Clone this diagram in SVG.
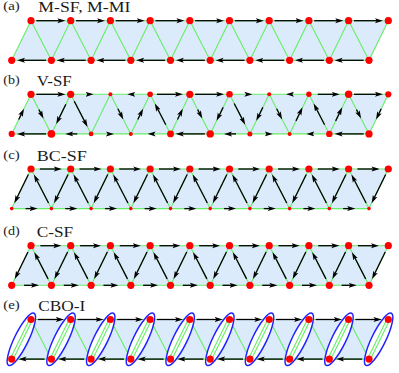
<svg xmlns="http://www.w3.org/2000/svg" xmlns:xlink="http://www.w3.org/1999/xlink" width="399" height="373" viewBox="0 0 399 373">
<style>
.bg{fill:#dcebfb}
.bond{stroke:#6e6;stroke-width:1.1;fill:none}
.ar{stroke:#000;stroke-width:1.3;fill:none;marker-end:url(#ah)}
.n{fill:#f00}
.lab{font-family:"Liberation Serif","DejaVu Serif",serif;fill:#1a1a1a}
.num{font-size:11.5px}
.ttl{font-size:15px}
.dim{fill:#fff;stroke:#2222ff;stroke-width:1.5}
</style>
<defs>
<marker id="ah" markerUnits="userSpaceOnUse" markerWidth="8" markerHeight="6" viewBox="0 0 8 6" refX="4.5" refY="3" orient="auto"><path d="M0,0.5L8,3L0,5.5L1.8,3z" fill="#000"/></marker>
<path id="a6" class="ar" d="M-3 0H-0.5"/>
<path id="a10" class="ar" d="M-5 0H1.5"/>
<path id="a12" class="ar" d="M-6 0H2.5"/>
<path id="a15" class="ar" d="M-7.5 0H4"/>
<path id="a21" class="ar" d="M-10.5 0H7"/>
<path id="a22" class="ar" d="M-11 0H7.5"/>
<path id="a24" class="ar" d="M-12 0H8.5"/>
<path id="a26" class="ar" d="M-13 0H9.5"/>
<path id="a29" class="ar" d="M-14.5 0H11"/>
<path id="a30" class="ar" d="M-15 0H11.5"/>
<path id="a32" class="ar" d="M-16 0H12.5"/>
<polygon id="bgp" class="bg" points="11.7,39.6 31,0 388.3,0 369,39.6"/>
<path id="bonds" class="bond" d="M31 0H388.3M11.7 39.6H369M11.7 39.6L31 0L51.4 39.6L70.7 0L91.1 39.6L110.4 0L130.8 39.6L150.1 0L170.5 39.6L189.8 0L210.2 39.6L229.5 0L249.9 39.6L269.2 0L289.6 39.6L308.9 0L329.3 39.6L348.6 0L369 39.6L388.3 0"/>
<g id="topL" class="n"><circle cx="31" cy="0" r="3.6"/><circle cx="70.7" cy="0" r="3.6"/><circle cx="110.4" cy="0" r="3.6"/><circle cx="150.1" cy="0" r="3.6"/><circle cx="189.8" cy="0" r="3.6"/><circle cx="229.5" cy="0" r="3.6"/><circle cx="269.2" cy="0" r="3.6"/><circle cx="308.9" cy="0" r="3.6"/><circle cx="348.6" cy="0" r="3.6"/><circle cx="388.3" cy="0" r="3.6"/></g>
<g id="botL" class="n"><circle cx="11.7" cy="39.6" r="3.6"/><circle cx="51.4" cy="39.6" r="3.6"/><circle cx="91.1" cy="39.6" r="3.6"/><circle cx="130.8" cy="39.6" r="3.6"/><circle cx="170.5" cy="39.6" r="3.6"/><circle cx="210.2" cy="39.6" r="3.6"/><circle cx="249.9" cy="39.6" r="3.6"/><circle cx="289.6" cy="39.6" r="3.6"/><circle cx="329.3" cy="39.6" r="3.6"/><circle cx="369" cy="39.6" r="3.6"/></g>
<g id="botS" class="n"><circle cx="11.7" cy="39.6" r="1.8"/><circle cx="51.4" cy="39.6" r="1.8"/><circle cx="91.1" cy="39.6" r="1.8"/><circle cx="130.8" cy="39.6" r="1.8"/><circle cx="170.5" cy="39.6" r="1.8"/><circle cx="210.2" cy="39.6" r="1.8"/><circle cx="249.9" cy="39.6" r="1.8"/><circle cx="289.6" cy="39.6" r="1.8"/><circle cx="329.3" cy="39.6" r="1.8"/><circle cx="369" cy="39.6" r="1.8"/></g>
<g id="dimer"><ellipse class="dim" cx="0" cy="0" rx="29" ry="7"/><path class="bond" d="M-22 -1.4H22M-22 1.4H22"/></g>
</defs>

<!-- (a) -->
<g id="panel-a" transform="translate(0 20.7)">
<use href="#bgp"/><use href="#bonds"/>
<g id="arrows-a">
<use href="#a29" x="50.85"/><use href="#a29" x="90.55"/><use href="#a29" x="130.25"/><use href="#a29" x="169.95"/><use href="#a29" x="209.65"/><use href="#a29" x="249.35"/><use href="#a29" x="289.05"/><use href="#a29" x="328.75"/><use href="#a29" x="368.45"/>
<use href="#a29" transform="translate(31.55 39.6) rotate(180)"/><use href="#a29" transform="translate(71.25 39.6) rotate(180)"/><use href="#a29" transform="translate(110.95 39.6) rotate(180)"/><use href="#a29" transform="translate(150.65 39.6) rotate(180)"/><use href="#a29" transform="translate(190.35 39.6) rotate(180)"/><use href="#a29" transform="translate(230.05 39.6) rotate(180)"/><use href="#a29" transform="translate(269.75 39.6) rotate(180)"/><use href="#a29" transform="translate(309.45 39.6) rotate(180)"/><use href="#a29" transform="translate(349.15 39.6) rotate(180)"/>
</g>
<g id="sites-a"><use href="#topL"/><use href="#botL"/></g>
</g>
<text class="lab num" x="3.3" y="10.2" textLength="16.5" lengthAdjust="spacingAndGlyphs">(a)</text>
<text class="lab ttl" x="38.3" y="11.7" textLength="92" lengthAdjust="spacingAndGlyphs">M-SF, M-MI</text>

<!-- (b) -->
<g id="panel-b" transform="translate(0 94.3)">
<use href="#bgp"/><use href="#bonds"/>
<g id="arrows-b">
<use href="#a29" x="50.85"/>
<use href="#a6" x="90.55"/>
<use href="#a6" transform="translate(130.25 0) rotate(180)"/>
<use href="#a26" x="169.95"/>
<use href="#a29" x="209.65"/>
<use href="#a6" x="249.35"/>
<use href="#a6" transform="translate(289.05 0) rotate(180)"/>
<use href="#a22" x="328.75"/>
<use href="#a29" x="368.45"/>
<use href="#a29" transform="translate(31.55 39.6) rotate(180)"/>
<use href="#a12" transform="translate(71.25 39.6) rotate(180)"/>
<use href="#a6" x="110.95" y="39.6"/>
<use href="#a6" transform="translate(150.65 39.6) rotate(180)"/>
<use href="#a29" transform="translate(190.35 39.6) rotate(180)"/>
<use href="#a12" transform="translate(230.05 39.6) rotate(180)"/>
<use href="#a6" x="269.75" y="39.6"/>
<use href="#a6" transform="translate(309.45 39.6) rotate(180)"/>
<use href="#a29" transform="translate(349.15 39.6) rotate(180)"/>
<use href="#a12" transform="translate(21.35 19.8) rotate(-64)"/>
<use href="#a22" transform="translate(61.05 19.8) rotate(116)"/>
<use href="#a12" transform="translate(140.45 19.8) rotate(-64)"/>
<use href="#a12" transform="translate(180.15 19.8) rotate(-64)"/>
<use href="#a15" transform="translate(219.85 19.8) rotate(116)"/>
<use href="#a15" transform="translate(259.55 19.8) rotate(116)"/>
<use href="#a15" transform="translate(299.25 19.8) rotate(-64)"/>
<use href="#a15" transform="translate(338.95 19.8) rotate(-64)"/>
<use href="#a12" transform="translate(378.65 19.8) rotate(116)"/>
<use href="#a10" transform="translate(41.2 19.8) rotate(62.75)"/>
<use href="#a29" transform="translate(80.9 19.8) rotate(62.75)"/>
<use href="#a12" transform="translate(120.6 19.8) rotate(62.75)"/>
<use href="#a24" transform="translate(160.3 19.8) rotate(-117.25)"/>
<use href="#a10" transform="translate(200 19.8) rotate(62.75)"/>
<use href="#a24" transform="translate(239.7 19.8) rotate(62.75)"/>
<use href="#a12" transform="translate(279.4 19.8) rotate(62.75)"/>
<use href="#a24" transform="translate(319.1 19.8) rotate(-117.25)"/>
<use href="#a10" transform="translate(358.8 19.8) rotate(62.75)"/>
</g>
<g id="sites-b" class="n">
<circle cx="31" cy="0" r="3.6"/><circle cx="70.7" cy="0" r="3.6"/><circle cx="110.4" cy="0" r="2"/><circle cx="150.1" cy="0" r="2.8"/><circle cx="189.8" cy="0" r="3.6"/><circle cx="229.5" cy="0" r="3.3"/><circle cx="269.2" cy="0" r="2"/><circle cx="308.9" cy="0" r="2.7"/><circle cx="348.6" cy="0" r="3.7"/><circle cx="388.3" cy="0" r="3.1"/>
<circle cx="11.7" cy="39.6" r="3.1"/><circle cx="51.4" cy="39.6" r="3.8"/><circle cx="91.1" cy="39.6" r="2.4"/><circle cx="130.8" cy="39.6" r="2"/><circle cx="170.5" cy="39.6" r="3.4"/><circle cx="210.2" cy="39.6" r="3.7"/><circle cx="249.9" cy="39.6" r="2.5"/><circle cx="289.6" cy="39.6" r="2"/><circle cx="329.3" cy="39.6" r="3.2"/><circle cx="369" cy="39.6" r="3.6"/>
</g>
</g>
<text class="lab num" x="3.3" y="83.8" textLength="16.5" lengthAdjust="spacingAndGlyphs">(b)</text>
<text class="lab ttl" x="36.7" y="86" textLength="35" lengthAdjust="spacingAndGlyphs">V-SF</text>

<!-- (c) -->
<g id="panel-c" transform="translate(0 169)">
<use href="#bgp"/><use href="#bonds"/>
<g id="arrows-c">
<use href="#a22" x="50.85"/><use href="#a22" x="90.55"/><use href="#a22" x="130.25"/><use href="#a22" x="169.95"/><use href="#a22" x="209.65"/><use href="#a22" x="249.35"/><use href="#a22" x="289.05"/><use href="#a22" x="328.75"/><use href="#a22" x="368.45"/>
<use href="#a12" x="31.55" y="39.6"/><use href="#a12" x="71.25" y="39.6"/><use href="#a12" x="110.95" y="39.6"/><use href="#a12" x="150.65" y="39.6"/><use href="#a12" x="190.35" y="39.6"/><use href="#a12" x="230.05" y="39.6"/><use href="#a12" x="269.75" y="39.6"/><use href="#a12" x="309.45" y="39.6"/><use href="#a12" x="349.15" y="39.6"/>
<use href="#a32" transform="translate(21.35 19.8) rotate(116)"/><use href="#a32" transform="translate(61.05 19.8) rotate(116)"/><use href="#a32" transform="translate(100.75 19.8) rotate(116)"/><use href="#a32" transform="translate(140.45 19.8) rotate(116)"/><use href="#a32" transform="translate(180.15 19.8) rotate(116)"/><use href="#a32" transform="translate(219.85 19.8) rotate(116)"/><use href="#a32" transform="translate(259.55 19.8) rotate(116)"/><use href="#a32" transform="translate(299.25 19.8) rotate(116)"/><use href="#a32" transform="translate(338.95 19.8) rotate(116)"/><use href="#a32" transform="translate(378.65 19.8) rotate(116)"/>
<use href="#a32" transform="translate(41.2 19.8) rotate(-117.25)"/><use href="#a32" transform="translate(80.9 19.8) rotate(-117.25)"/><use href="#a32" transform="translate(120.6 19.8) rotate(-117.25)"/><use href="#a32" transform="translate(160.3 19.8) rotate(-117.25)"/><use href="#a32" transform="translate(200 19.8) rotate(-117.25)"/><use href="#a32" transform="translate(239.7 19.8) rotate(-117.25)"/><use href="#a32" transform="translate(279.4 19.8) rotate(-117.25)"/><use href="#a32" transform="translate(319.1 19.8) rotate(-117.25)"/><use href="#a32" transform="translate(358.8 19.8) rotate(-117.25)"/>
</g>
<g id="sites-c"><use href="#topL"/><use href="#botS"/></g>
</g>
<text class="lab num" x="3.3" y="158.5" textLength="16.5" lengthAdjust="spacingAndGlyphs">(c)</text>
<text class="lab ttl" x="36.7" y="160.7" textLength="50" lengthAdjust="spacingAndGlyphs">BC-SF</text>

<!-- (d) -->
<g id="panel-d" transform="translate(0 245.7)">
<use href="#bgp"/><use href="#bonds"/>
<g id="arrows-d">
<use href="#a21" x="50.85"/><use href="#a21" x="90.55"/><use href="#a21" x="130.25"/><use href="#a21" x="169.95"/><use href="#a21" x="209.65"/><use href="#a21" x="249.35"/><use href="#a21" x="289.05"/><use href="#a21" x="328.75"/><use href="#a21" x="368.45"/>
<use href="#a15" x="31.55" y="39.6"/><use href="#a15" x="71.25" y="39.6"/><use href="#a15" x="110.95" y="39.6"/><use href="#a15" x="150.65" y="39.6"/><use href="#a15" x="190.35" y="39.6"/><use href="#a15" x="230.05" y="39.6"/><use href="#a15" x="269.75" y="39.6"/><use href="#a15" x="309.45" y="39.6"/><use href="#a15" x="349.15" y="39.6"/>
<use href="#a30" transform="translate(21.35 19.8) rotate(116)"/><use href="#a30" transform="translate(61.05 19.8) rotate(116)"/><use href="#a30" transform="translate(100.75 19.8) rotate(116)"/><use href="#a30" transform="translate(140.45 19.8) rotate(116)"/><use href="#a30" transform="translate(180.15 19.8) rotate(116)"/><use href="#a30" transform="translate(219.85 19.8) rotate(116)"/><use href="#a30" transform="translate(259.55 19.8) rotate(116)"/><use href="#a30" transform="translate(299.25 19.8) rotate(116)"/><use href="#a30" transform="translate(338.95 19.8) rotate(116)"/><use href="#a30" transform="translate(378.65 19.8) rotate(116)"/>
<use href="#a30" transform="translate(41.2 19.8) rotate(-117.25)"/><use href="#a30" transform="translate(80.9 19.8) rotate(-117.25)"/><use href="#a30" transform="translate(120.6 19.8) rotate(-117.25)"/><use href="#a30" transform="translate(160.3 19.8) rotate(-117.25)"/><use href="#a30" transform="translate(200 19.8) rotate(-117.25)"/><use href="#a30" transform="translate(239.7 19.8) rotate(-117.25)"/><use href="#a30" transform="translate(279.4 19.8) rotate(-117.25)"/><use href="#a30" transform="translate(319.1 19.8) rotate(-117.25)"/><use href="#a30" transform="translate(358.8 19.8) rotate(-117.25)"/>
</g>
<g id="sites-d"><use href="#topL"/><use href="#botL"/></g>
</g>
<text class="lab num" x="3.3" y="235.2" textLength="16.5" lengthAdjust="spacingAndGlyphs">(d)</text>
<text class="lab ttl" x="36.7" y="237.4" textLength="36.5" lengthAdjust="spacingAndGlyphs">C-SF</text>

<!-- (e) -->
<g id="panel-e" transform="translate(0 319.5)">
<use href="#bgp"/>
<path class="bond" d="M31 0H388.3M11.7 39.6H369M31 0L51.4 39.6M70.7 0L91.1 39.6M110.4 0L130.8 39.6M150.1 0L170.5 39.6M189.8 0L210.2 39.6M229.5 0L249.9 39.6M269.2 0L289.6 39.6M308.9 0L329.3 39.6M348.6 0L369 39.6"/>
<g id="dimers-e">
<use href="#dimer" transform="translate(21.35 19.8) rotate(-64)"/><use href="#dimer" transform="translate(61.05 19.8) rotate(-64)"/><use href="#dimer" transform="translate(100.75 19.8) rotate(-64)"/><use href="#dimer" transform="translate(140.45 19.8) rotate(-64)"/><use href="#dimer" transform="translate(180.15 19.8) rotate(-64)"/><use href="#dimer" transform="translate(219.85 19.8) rotate(-64)"/><use href="#dimer" transform="translate(259.55 19.8) rotate(-64)"/><use href="#dimer" transform="translate(299.25 19.8) rotate(-64)"/><use href="#dimer" transform="translate(338.95 19.8) rotate(-64)"/><use href="#dimer" transform="translate(378.65 19.8) rotate(-64)"/>
</g>
<g id="arrows-e">
<use href="#a26" x="50.85"/><use href="#a26" x="90.55"/><use href="#a26" x="130.25"/><use href="#a26" x="169.95"/><use href="#a26" x="209.65"/><use href="#a26" x="249.35"/><use href="#a26" x="289.05"/><use href="#a26" x="328.75"/><use href="#a26" x="368.45"/>
<use href="#a26" transform="translate(31.55 39.6) rotate(180)"/><use href="#a26" transform="translate(71.25 39.6) rotate(180)"/><use href="#a26" transform="translate(110.95 39.6) rotate(180)"/><use href="#a26" transform="translate(150.65 39.6) rotate(180)"/><use href="#a26" transform="translate(190.35 39.6) rotate(180)"/><use href="#a26" transform="translate(230.05 39.6) rotate(180)"/><use href="#a26" transform="translate(269.75 39.6) rotate(180)"/><use href="#a26" transform="translate(309.45 39.6) rotate(180)"/><use href="#a26" transform="translate(349.15 39.6) rotate(180)"/>
</g>
<g id="sites-e"><use href="#topL"/><use href="#botL"/></g>
</g>
<text class="lab num" x="3.3" y="309" textLength="16.5" lengthAdjust="spacingAndGlyphs">(e)</text>
<text class="lab ttl" x="38.3" y="311.2" textLength="47" lengthAdjust="spacingAndGlyphs">CBO-I</text>
</svg>
